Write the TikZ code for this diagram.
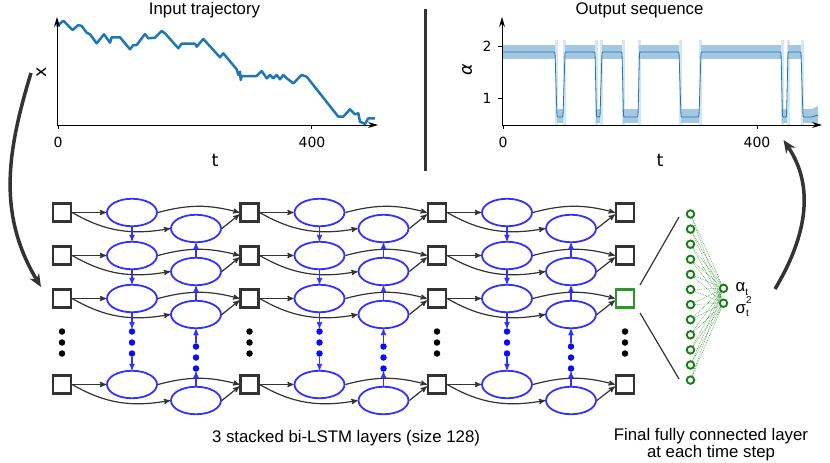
\documentclass[tikz,border=0pt]{standalone}
\usepackage{fontspec}
\setmainfont{Liberation Sans}
\newfontfamily\plotfont{DejaVu Sans}
\usetikzlibrary{arrows,arrows.meta,shapes.geometric,calc}

\definecolor{linegray}{RGB}{51,51,51}
\definecolor{lstmblue}{RGB}{50,50,255}
\definecolor{dotblue}{RGB}{10,10,255}
\definecolor{fcgreen}{RGB}{20,128,20}
\definecolor{sqgreen}{RGB}{44,150,44}
\definecolor{mplblue}{RGB}{31,119,180}
\definecolor{bandblue}{RGB}{165,200,226}

\newcommand\txtfont{\fontsize{16.8}{17.5}\selectfont}
\newcommand\tickfont{\plotfont\fontsize{14}{14}\selectfont}
\newcommand\axfont{\plotfont\fontsize{17.5}{17.5}\selectfont}
\newcommand\idx[2]{\raisebox{#1}{\fontsize{10}{10}\selectfont #2}}

\begin{document}
\begin{tikzpicture}[x=1pt,y=-1pt,>=stealth',
    cell/.style={draw=linegray,line width=2.4pt,fill=white,rectangle,minimum size=18pt,inner sep=0pt},
    lstm/.style={draw=lstmblue,line width=1.8pt,ellipse,minimum width=50pt,minimum height=27.5pt,inner sep=0pt},
    link/.style={->,draw=linegray,line width=1.2pt},
    updown/.style={->,draw=lstmblue,line width=1.2pt},
    blackdot/.style={circle,fill=black,inner sep=0pt,minimum size=6.5pt},
    bluedot/.style={circle,fill=dotblue,inner sep=0pt,minimum size=6.5pt},
    neuron/.style={circle,draw=fcgreen,line width=1.9pt,inner sep=0pt,minimum size=7.5pt},
    fcline/.style={draw=fcgreen,line width=0.3pt,dash pattern=on 1pt off 0.8pt},
    bigarrow/.style={-{Stealth[length=13pt,width=11pt]},draw=linegray,line width=3.5pt},
    plotaxis/.style={-{Stealth[length=10pt,width=6pt]},line width=1pt},
    band/.style={fill=bandblue},
    txt/.style={font=\txtfont,inner sep=0pt},
    ticklab/.style={font=\tickfont,inner sep=0pt},
    axlab/.style={font=\axfont,inner sep=0pt}]

    \useasboundingbox (0,0) rectangle (830,463);

    % input trajectory
    \draw[mplblue,line width=2.5pt,line join=round]
      (56.7,26.7) -- (63.3,20.7) -- (72.7,30) -- (78.3,25) -- (81.7,26) -- (86.7,32.7)
      -- (90,34.3) -- (96.7,43.3) -- (104,34.3) -- (110,42.7) -- (111.7,37.3) -- (120,37.3)
      -- (130,49.3) -- (133.3,45) -- (136.7,45) -- (145,34) -- (148.3,38.3) -- (155,37.7)
      -- (161.7,31) -- (165,33.3) -- (178.3,48.3) -- (181.7,43.7) -- (195,43.7) -- (196.7,46.7)
      -- (203.3,39) -- (220,57.3) -- (223.3,53.3) -- (236.7,69.3) -- (238.3,75) -- (240,71.7)
      -- (240.7,80) -- (241.7,76) -- (256.7,76) -- (261.7,71) -- (266.7,78.3) -- (270,75)
      -- (273.3,78.3) -- (276.7,75) -- (280,79.3) -- (283.3,75) -- (286.7,78.3) -- (293.3,83.3)
      -- (301.7,75) -- (306.7,76.7) -- (338.3,116.7) -- (343.3,116.7) -- (350,109.3) -- (355,114.3)
      -- (358.3,113.3) -- (360,121.7) -- (365,124) -- (368.3,118.3) -- (375,118.3);
    \draw[plotaxis] (57,125) -- (378,125);
    \draw[plotaxis] (57,125) -- (57,17);
    \draw[line width=1pt] (58,125) -- (58,129) (311,125) -- (311,129);
    \node[ticklab] (in0) at (58,142) {0};
    \node[ticklab] (in400) at (312,142) {400};
    \node[axlab] (int) at (215,160) {t};
    \node[axlab,rotate=90] (inx) at (42,72) {x};
    \node[txt,anchor=base] (intitle) at (204.5,14.5) {Input trajectory};

    % output sequence
    \foreach \a/\b in {503/555,565/595,602/622,639/679,701/781,788/801}
      \fill[band] (\a,45) rectangle (\b,58.5);
    \foreach \a/\b in {557/563,596/600,623/638,681/699,782/787,803/818}
      \fill[band] (\a,109) rectangle (\b,123);
    \fill[band] (812,109) -- (818,106) -- (818,123) -- (812,123) -- cycle;
    \foreach \a in {555,563,595,600,622,638,679,699,781,787,801}
      \fill[band,opacity=0.45] (\a,40) rectangle (\a+2.5,125);
    \draw[mplblue,line width=0.8pt,rounded corners=1pt]
      (503,52) -- (555,52) -- (557,117) -- (563,117) -- (565,52) -- (595,52) -- (596.5,117)
      -- (600,117) -- (602,52) -- (622,52) -- (623.5,117) -- (638,117) -- (639.5,52) -- (679,52)
      -- (681,117) -- (699,117) -- (701,52) -- (781,52) -- (782.5,117) -- (786.5,117) -- (788,52)
      -- (801,52) -- (803,117) -- (812,117) -- (818,115);
    \draw[plotaxis] (502,125) -- (822,125);
    \draw[plotaxis] (502,125) -- (502,17);
    \draw[line width=1pt] (503,125) -- (503,129) (757,125) -- (757,129)
      (497.5,46) -- (502,46) (497.5,98) -- (502,98);
    \node[ticklab] (out0) at (503,142) {0};
    \node[ticklab] (out400) at (757,142) {400};
    \node[ticklab] (out2) at (487,46) {2};
    \node[ticklab] (out1) at (487,98) {1};
    \node[axlab] (outt) at (660,160) {t};
    \node[axlab,rotate=90] (outa) at (467,70) {\itshape α};
    \node[txt,anchor=base] (outtitle) at (639.5,14.5) {Output sequence};

    \draw[line width=3pt,linegray] (425,9) -- (425,171);

    % input and output cells
    \foreach \c/\x in {0/62,1/249.5,2/437,3/625}{
      \foreach \r/\y in {1/212.5,2/255.5,3/298.5,4/384.5}{
        \ifnum\c\r=33 \def\cellcol{sqgreen}\else\def\cellcol{linegray}\fi
        \node[cell,draw=\cellcol] (s-\c-\r) at (\x,\y) {};
      }
      \foreach \d/\y in {1/331.5,2/342.5,3/353.5}
        \node[blackdot] (k-\c-\d) at (\x,\y) {};
    }

    % bi-LSTM layers
    \foreach \c/\x in {0/62,1/249.5,2/437}{
      \foreach \r/\y in {1/212.5,2/255.5,3/298.5,4/384.5}{
        \node[lstm] (f-\c-\r) at (\x+70,\y) {};
        \node[lstm] (b-\c-\r) at (\x+134,\y+16) {};
      }
      \foreach \d/\y in {1/331.5,2/342.5,3/353.5}{
        \node[bluedot] (fd-\c-\d) at (\x+70,\y) {};
        \node[bluedot] (bd-\c-\d) at (\x+134,\y+15) {};
      }
    }

    \foreach \c in {0,1,2}{
      \pgfmathtruncatemacro\n{\c+1}
      \foreach \r in {1,2,3,4}{
        \draw[link] (s-\c-\r) -- (f-\c-\r);
        \draw[link] (s-\c-\r.east) to[out=-30,in=190] (b-\c-\r.west);
        \draw[link] (f-\c-\r.east) to[bend left=15] (s-\n-\r.west);
        \draw[link] (b-\c-\r.east) -- ([yshift=-2pt]s-\n-\r.west);
      }
      \draw[updown] (f-\c-1) -- (f-\c-2);
      \draw[updown] (f-\c-2) -- (f-\c-3);
      \draw[updown] (f-\c-3) -- (fd-\c-1);
      \draw[updown] (fd-\c-3) -- (f-\c-4);
      \draw[updown] (b-\c-2) -- (b-\c-1);
      \draw[updown] (b-\c-3) -- (b-\c-2);
      \draw[updown] (bd-\c-1) -- (b-\c-3);
      \draw[updown] (b-\c-4) -- (bd-\c-3);
    }

    % final dense layer
    \foreach \i in {1,...,12}
      \node[neuron] (h\i) at (690.5,{214+15.1*(\i-1)}) {};
    \node[neuron] (oa) at (723.5,288.3) {};
    \node[neuron] (os) at (723.5,303.2) {};
    \foreach \i in {1,...,12}{
      \draw[fcline] (h\i) -- (oa);
      \draw[fcline] (h\i) -- (os);
    }
    \node[txt,anchor=base west] (outlab) at (735.5,291.7)
      {\def\arraystretch{0.95}\begin{tabular}[t]{@{}l@{}}
        α\idx{-3.3pt}{t}\\
        σ\rlap{\idx{10pt}{2}}\idx{-3pt}{t}
      \end{tabular}};

    \coordinate (za) at (640,285);
    \coordinate (zb) at (679,217);
    \coordinate (zc) at (640,313);
    \coordinate (zd) at (679,379);
    \draw[linegray,line width=1.2pt] (za) -- (zb);
    \draw[linegray,line width=1.2pt] (zc) -- (zd);

    % curved arrows
    \coordinate (inS) at (31,73);
    \coordinate (inE) at (41,287);
    \draw[bigarrow] (inS) to[out=253,in=121] (inE);
    \coordinate (outS) at (775,289);
    \coordinate (outE) at (783.5,140);
    \draw[bigarrow] (outS) to[out=59,in=304] (outE);

    \node[txt,anchor=base] (lstmtxt) at (346,442) {3 stacked bi-LSTM layers (size 128)};
    \node[txt,align=center,anchor=north] (fctxt) at (711,428) {Final fully connected layer\\at each time step};

  \end{tikzpicture}
\end{document}
